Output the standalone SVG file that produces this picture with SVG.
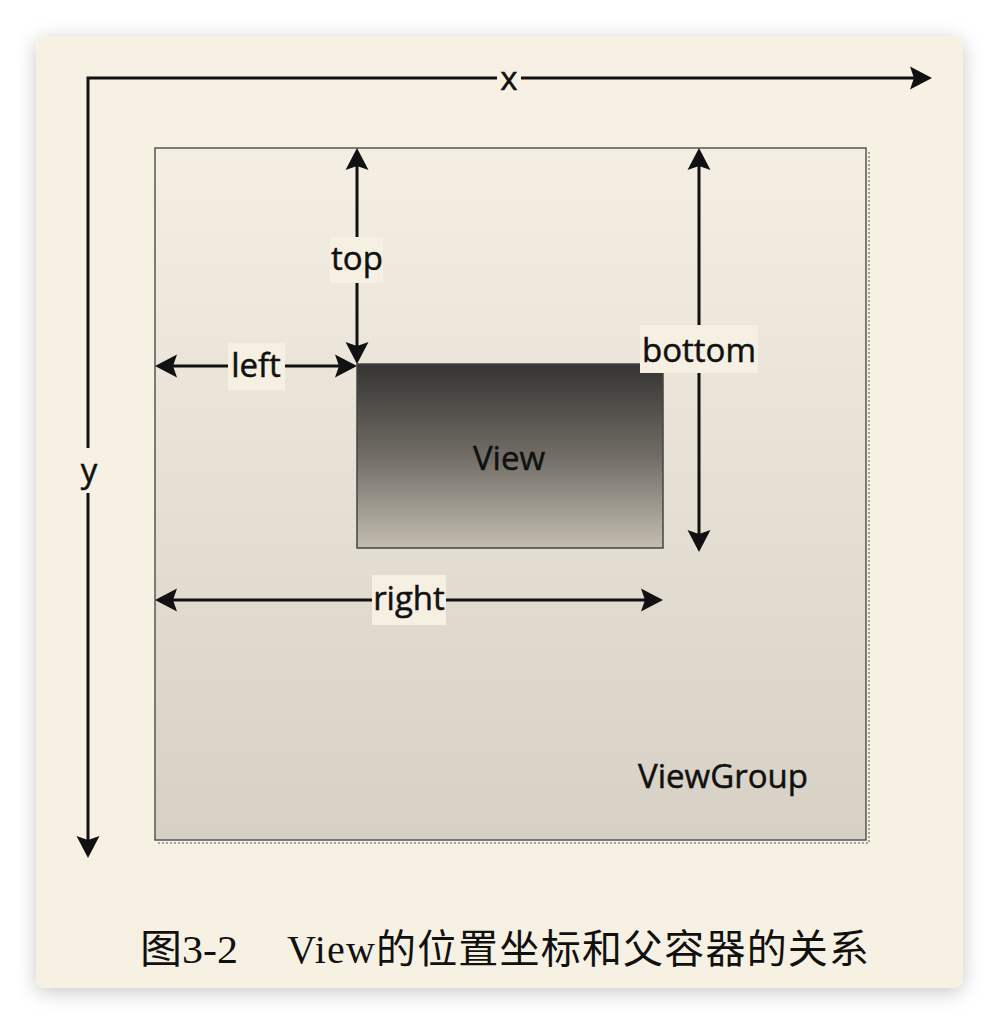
<svg xmlns="http://www.w3.org/2000/svg" width="1000" height="1024" viewBox="0 0 1000 1024">
  <defs>
    <filter id="shadow" x="-10%" y="-10%" width="120%" height="120%">
      <feDropShadow dx="0" dy="4" stdDeviation="10" flood-color="#000" flood-opacity="0.22"/>
    </filter>
    <linearGradient id="gGroup" x1="0" y1="0" x2="0" y2="1">
      <stop offset="0" stop-color="#F5EFE3"/>
      <stop offset="1" stop-color="#D7D1C5"/>
    </linearGradient>
    <linearGradient id="gView" x1="0" y1="0" x2="0" y2="1">
      <stop offset="0" stop-color="#353432"/>
      <stop offset="0.5" stop-color="#716D66"/>
      <stop offset="1" stop-color="#C3BDB0"/>
    </linearGradient>
    <marker id="ah" markerWidth="22" markerHeight="24" refX="18" refY="12" orient="auto-start-reverse" markerUnits="userSpaceOnUse">
      <path d="M0,0.5 L22,12 L0,23.5 L4,12 Z" fill="#111"/>
    </marker>
  </defs>
  <style>
    .lbl { font-family: "Open Sans", "Noto Sans", "Liberation Sans", sans-serif; font-size: 33px; fill: #111; stroke: #111; stroke-width: 0.5; text-anchor: middle; }
    .box { fill: #F6F0E3; }
    .ln { stroke: #111; stroke-width: 3; fill: none; }
    .cap { font-family: "Liberation Serif", "Noto Sans CJK SC", serif; font-size: 40px; fill: #111; }
  </style>

  <rect width="1000" height="1024" fill="#FFFFFF"/>

  <g id="card">
    <rect x="36" y="36" width="927" height="952" rx="10" fill="#F7F1E3" filter="url(#shadow)"/>
  </g>

  <g id="viewgroup">
    <line x1="869" y1="152" x2="869" y2="843" stroke="#888" stroke-width="1.5" stroke-dasharray="2,2"/>
    <line x1="158" y1="843" x2="869" y2="843" stroke="#888" stroke-width="1.5" stroke-dasharray="2,2"/>
    <rect x="155" y="148" width="711" height="692" fill="url(#gGroup)" stroke="#555" stroke-width="1.5"/>
    <text class="lbl" x="723" y="788">ViewGroup</text>
  </g>

  <g id="view">
    <rect x="357" y="364" width="306" height="184" fill="url(#gView)" stroke="#444" stroke-width="1.5"/>
    <text class="lbl" x="509" y="470" font-size="34">View</text>
  </g>

  <g id="connectors">
    <path class="ln" d="M88,854 L88,78 L928,78" marker-start="url(#ah)" marker-end="url(#ah)"/>
    <line class="ln" x1="357" y1="152" x2="357" y2="360" marker-start="url(#ah)" marker-end="url(#ah)"/>
    <line class="ln" x1="159" y1="366" x2="353" y2="366" marker-start="url(#ah)" marker-end="url(#ah)"/>
    <line class="ln" x1="699" y1="152" x2="699" y2="548" marker-start="url(#ah)" marker-end="url(#ah)"/>
    <line class="ln" x1="159" y1="600" x2="659" y2="600" marker-start="url(#ah)" marker-end="url(#ah)"/>
  </g>

  <g id="labels">
    <g id="label-x">
      <rect x="497" y="63" width="24" height="30" fill="#F7F1E3"/>
      <text class="lbl" x="509" y="90">x</text>
    </g>
    <g id="label-y">
      <rect x="76" y="448" width="26" height="45" fill="#F7F1E3"/>
      <text class="lbl" x="89" y="482">y</text>
    </g>
    <g id="label-top">
      <rect class="box" x="330" y="237" width="53" height="46"/>
      <text class="lbl" x="357" y="270">top</text>
    </g>
    <g id="label-left">
      <rect class="box" x="228" y="343" width="57" height="47"/>
      <text class="lbl" x="256" y="377">left</text>
    </g>
    <g id="label-bottom">
      <rect class="box" x="640" y="325" width="118" height="48"/>
      <text class="lbl" x="699" y="362">bottom</text>
    </g>
    <g id="label-right">
      <rect class="box" x="372" y="575" width="74" height="50"/>
      <text class="lbl" x="409" y="610">right</text>
    </g>
  </g>

  <g id="caption">
    <text class="cap" x="140" y="963" textLength="98" lengthAdjust="spacingAndGlyphs">图3-2</text>
    <text class="cap" x="287" y="963" textLength="582" lengthAdjust="spacing">View的位置坐标和父容器的关系</text>
  </g>
</svg>
